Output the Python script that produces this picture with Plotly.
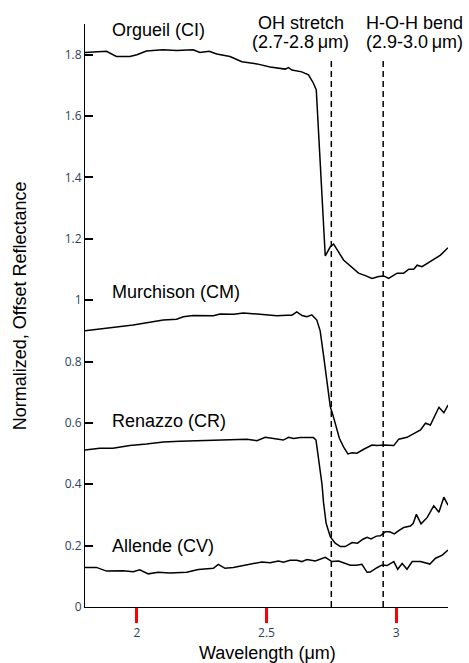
import plotly.graph_objects as go

# Wavelength (um) and normalized, offset reflectance for each meteorite
orgueil_wl = [1.80, 1.84, 1.883, 1.921, 1.973, 2.00, 2.037, 2.10, 2.153, 2.217, 2.243, 2.279,
              2.308, 2.359, 2.405, 2.463, 2.514, 2.572, 2.585, 2.598, 2.636, 2.662, 2.681, 2.692,
              2.7266, 2.746, 2.759, 2.797, 2.823, 2.855, 2.881, 2.907, 2.933, 2.952, 2.971, 3.004,
              3.029, 3.049, 3.068, 3.081, 3.100, 3.132, 3.171, 3.200]
orgueil_r = [1.807, 1.809, 1.811, 1.794, 1.794, 1.800, 1.812, 1.816, 1.814, 1.816, 1.807, 1.811,
             1.802, 1.794, 1.777, 1.770, 1.760, 1.753, 1.758, 1.750, 1.744, 1.734, 1.707, 1.685,
             1.144, 1.174, 1.183, 1.131, 1.111, 1.088, 1.080, 1.071, 1.077, 1.079, 1.071, 1.088,
             1.088, 1.101, 1.101, 1.114, 1.109, 1.126, 1.147, 1.171]

murchison_wl = [1.80, 1.895, 1.986, 2.102, 2.153, 2.179, 2.217, 2.295, 2.321, 2.373, 2.411, 2.475,
                2.540, 2.579, 2.598, 2.617, 2.637, 2.656, 2.675, 2.694, 2.707, 2.720, 2.733, 2.746,
                2.756, 2.781, 2.797, 2.814, 2.830, 2.849, 2.875, 2.907, 2.926, 2.952, 2.991, 3.010,
                3.042, 3.068, 3.094, 3.113, 3.132, 3.165, 3.184, 3.200]
murchison_r = [0.900, 0.910, 0.919, 0.935, 0.938, 0.946, 0.950, 0.949, 0.955, 0.954, 0.958, 0.954,
               0.949, 0.951, 0.951, 0.962, 0.950, 0.946, 0.952, 0.935, 0.900, 0.820, 0.740, 0.653,
               0.626, 0.550, 0.522, 0.499, 0.503, 0.501, 0.514, 0.528, 0.526, 0.528, 0.526, 0.547,
               0.553, 0.566, 0.577, 0.599, 0.593, 0.651, 0.633, 0.658]

renazzo_wl = [1.80, 1.857, 1.908, 1.973, 2.037, 2.102, 2.166, 2.231, 2.282, 2.333, 2.385, 2.424,
              2.463, 2.495, 2.527, 2.565, 2.585, 2.604, 2.630, 2.681, 2.691, 2.701, 2.714, 2.720,
              2.730, 2.746, 2.765, 2.785, 2.804, 2.830, 2.851, 2.872, 2.888, 2.903, 2.924, 2.939,
              2.958, 2.975, 2.993, 3.010, 3.029, 3.055, 3.066, 3.078, 3.096, 3.120, 3.145, 3.165,
              3.184, 3.200]
renazzo_r = [0.512, 0.517, 0.517, 0.526, 0.531, 0.538, 0.540, 0.542, 0.545, 0.545, 0.547, 0.547,
             0.542, 0.553, 0.549, 0.544, 0.553, 0.549, 0.552, 0.552, 0.544, 0.479, 0.400, 0.340,
             0.273, 0.229, 0.208, 0.197, 0.197, 0.210, 0.208, 0.221, 0.227, 0.222, 0.231, 0.232,
             0.245, 0.245, 0.238, 0.249, 0.259, 0.264, 0.273, 0.302, 0.271, 0.292, 0.330, 0.309,
             0.358, 0.332]

allende_wl = [1.80, 1.844, 1.883, 1.947, 1.986, 2.011, 2.044, 2.082, 2.127, 2.192, 2.237, 2.295,
              2.314, 2.340, 2.372, 2.411, 2.443, 2.482, 2.514, 2.546, 2.565, 2.591, 2.617, 2.636,
              2.656, 2.688, 2.727, 2.752, 2.778, 2.804, 2.823, 2.846, 2.868, 2.888, 2.900, 2.926,
              2.946, 2.965, 2.991, 3.006, 3.023, 3.042, 3.062, 3.094, 3.113, 3.130, 3.152, 3.178,
              3.200]
allende_r = [0.129, 0.129, 0.117, 0.118, 0.115, 0.121, 0.108, 0.113, 0.111, 0.113, 0.122, 0.126,
             0.139, 0.126, 0.129, 0.136, 0.140, 0.147, 0.144, 0.150, 0.146, 0.152, 0.152, 0.148,
             0.155, 0.150, 0.162, 0.148, 0.150, 0.142, 0.136, 0.136, 0.139, 0.113, 0.114, 0.128,
             0.137, 0.135, 0.148, 0.123, 0.142, 0.123, 0.148, 0.148, 0.144, 0.140, 0.159, 0.169,
             0.186]

# Sample names and where their labels sit (wavelength, reflectance)
sample_names = ["Orgueil (CI)", "Murchison (CM)", "Renazzo (CR)", "Allende (CV)"]
label_y = [1.88, 1.028, 0.606, 0.198]
label_x = 1.895

# Absorption features marked by dashed lines
feature_wl = [2.75, 2.95]
feature_top = 1.78
feature_line1 = ["OH stretch", "H-O-H bend"]
feature_line2 = ["(2.7-2.8\u2009\u03bcm)", "(2.9-3.0\u2009\u03bcm)"]
feature_text_x = [2.632, 3.072]

FONT = "Liberation Sans, Arial, Helvetica, sans-serif"
TEXT_FONT = dict(size=18, color="black", family=FONT)
X_RANGE = [1.8, 3.2]
Y_RANGE = [0, 1.9]


def to_paper_x(wl):
    return (wl - X_RANGE[0]) / (X_RANGE[1] - X_RANGE[0])


fig = go.Figure()
for wl, r in [(orgueil_wl, orgueil_r), (murchison_wl, murchison_r),
              (renazzo_wl, renazzo_r), (allende_wl, allende_r)]:
    fig.add_trace(go.Scatter(x=wl, y=r, mode="lines",
                             line=dict(color="black", width=1.5), showlegend=False))

for wl in feature_wl:
    fig.add_trace(go.Scatter(x=[wl, wl], y=[0, feature_top], mode="lines",
                             line=dict(color="black", width=1.5, dash="6px,4px"),
                             showlegend=False))

for name, y in zip(sample_names, label_y):
    fig.add_annotation(x=label_x, y=y, xref="x", yref="y", text=name, showarrow=False,
                       xanchor="left", yanchor="middle", font=TEXT_FONT)
for x, t1, t2 in zip(feature_text_x, feature_line1, feature_line2):
    fig.add_annotation(x=to_paper_x(x), y=1.0017, xref="paper", yref="paper", text=t1,
                       showarrow=False, xanchor="center", yanchor="middle", font=TEXT_FONT)
    fig.add_annotation(x=to_paper_x(x), y=0.9691, xref="paper", yref="paper", text=t2,
                       showarrow=False, xanchor="center", yanchor="middle", font=TEXT_FONT)
fig.add_annotation(x=0.504, y=-0.079, xref="paper", yref="paper",
                   text="Wavelength (\u03bcm)", showarrow=False,
                   xanchor="center", yanchor="middle", font=TEXT_FONT)
fig.add_annotation(x=-0.180, y=0.517, xref="paper", yref="paper",
                   text="Normalized, Offset Reflectance", showarrow=False, textangle=-90,
                   xanchor="center", yanchor="middle", font=TEXT_FONT)

fig.update_layout(width=469, height=663, margin=dict(l=85, r=21, t=24, b=56),
                  plot_bgcolor="white")
fig.update_xaxes(range=X_RANGE, ticks="outside", ticklen=15, tickwidth=3, tickcolor="red",
                 showline=True, linecolor="black")
fig.update_yaxes(range=Y_RANGE, ticks="inside", ticklen=8, tickwidth=2, tickcolor="black",
                 showline=True, linecolor="black")

fig.write_html("out.html")
